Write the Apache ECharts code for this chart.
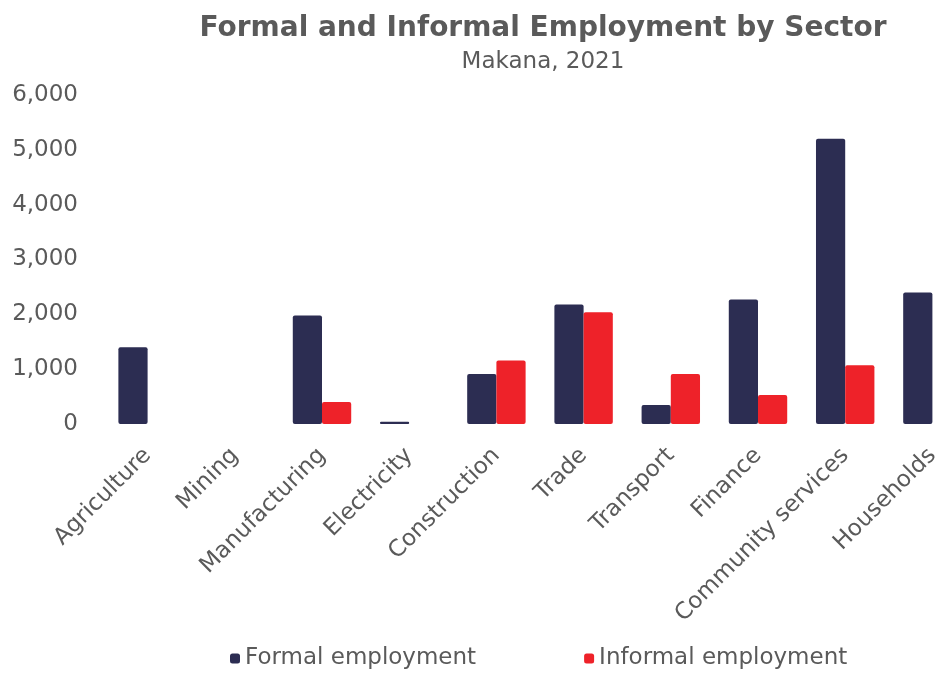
<!DOCTYPE html>
<html>
<head>
<meta charset="utf-8">
<script src="https://cdn.jsdelivr.net/npm/echarts@6/dist/echarts.min.js"></script>
<style>
  html, body { margin: 0; padding: 0; background: #fff; }
  #chart { width: 940px; height: 675px; }
</style>
</head>
<body>
<div id="chart"></div>
<script>
const sectors = ['Agriculture', 'Mining', 'Manufacturing', 'Electricity', 'Construction',
  'Trade', 'Transport', 'Finance', 'Community services', 'Households']
const formalEmployment = [1400, 0, 1980, 40, 910, 2180, 345, 2270, 5200, 2400]
const informalEmployment = [0, 0, 400, 0, 1160, 2040, 910, 530, 1070, 0]
const yTicks = [0, 1000, 2000, 3000, 4000, 5000, 6000]

const textGray = '#5a5a5a'
const font = "'DejaVu Sans', Verdana, sans-serif"

const chart = echarts.init(document.getElementById('chart'))

chart.setOption({
  backgroundColor: '#fff',
  animation: false,
  title: {
    text: 'Formal and Informal Employment by Sector',
    subtext: 'Makana, 2021',
    left: 538,
    top: 10,
    textAlign: 'center',
    itemGap: 8,
    textStyle: { fontFamily: font, fontSize: 28, fontWeight: 'bold', color: textGray },
    subtextStyle: { fontFamily: font, fontSize: 23, color: textGray },
  },
  legend: {
    left: 225,
    bottom: 0,
    itemWidth: 10,
    itemHeight: 10,
    itemGap: 108,
    icon: 'roundRect',
    textStyle: { fontFamily: font, fontSize: 23, color: textGray },
  },
  // plot area runs past the right edge of the picture, as in the source image
  grid: { left: 104, right: -36, top: 95, bottom: 251, containLabel: false, outerBoundsMode: 'none' },
  xAxis: {
    type: 'category',
    data: sectors,
    axisLine: { show: false },
    axisTick: { show: false },
    axisLabel: {
      rotate: 45,
      interval: 0,
      margin: 28,
      fontFamily: font,
      fontSize: 23,
      color: textGray,
    },
  },
  yAxis: {
    type: 'value',
    min: yTicks[0],
    max: yTicks[yTicks.length - 1],
    interval: 1000,
    splitLine: { show: false },
    axisLine: { show: false },
    axisTick: { show: false },
    axisLabel: {
      margin: 26,
      fontFamily: font,
      fontSize: 23,
      color: textGray,
      formatter: v => v.toLocaleString('en-US'),
    },
  },
  series: [
    {
      name: 'Formal employment',
      type: 'bar',
      data: formalEmployment,
      barGap: '0%',
      barCategoryGap: '33%',
      itemStyle: { color: '#2c2d52', borderRadius: 2 },
    },
    {
      name: 'Informal employment',
      type: 'bar',
      data: informalEmployment,
      itemStyle: { color: '#ee2229', borderRadius: 2 },
    },
  ],
})
</script>
</body>
</html>
